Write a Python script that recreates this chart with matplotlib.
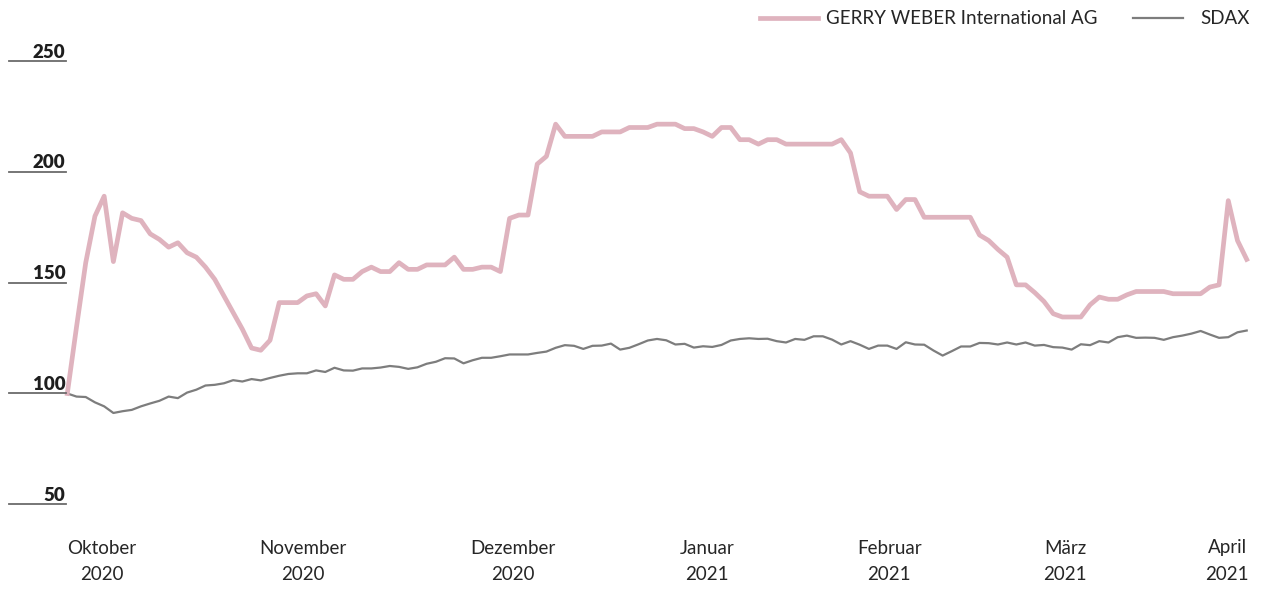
import numpy as np
import matplotlib.pyplot as plt
import matplotlib.transforms as mtransforms
from matplotlib.lines import Line2D

# indexed performance, one value per trading day (30.09.2020 = 100)
gerry = [100, 130, 159, 180, 189, 159.5, 181.5, 179, 178, 172,
         169.5, 166, 168, 163.5, 161.5, 157, 151.5, 144, 136.5, 129,
         120.5, 119.5, 124, 141, 141, 141, 144, 145, 139.5, 153.5,
         151.5, 151.5, 155, 157, 155, 155, 159, 156, 156, 158,
         158, 158, 161.5, 156, 156, 157, 157, 155, 179, 180.5,
         180.5, 203.5, 207, 221.5, 216, 216, 216, 216, 218, 218,
         218, 220, 220, 220, 221.5, 221.5, 221.5, 219.5, 219.5, 218,
         216, 220, 220, 214.5, 214.5, 212.5, 214.5, 214.5, 212.5, 212.5,
         212.5, 212.5, 212.5, 212.5, 214.5, 208.5, 191, 189, 189, 189,
         183, 187.5, 187.5, 179.5, 179.5, 179.5, 179.5, 179.5, 179.5, 171.5,
         169, 165, 161.5, 149, 149, 145.5, 141.5, 136, 134.5, 134.5,
         134.5, 140, 143.5, 142.5, 142.5, 144.5, 146, 146, 146, 146,
         145, 145, 145, 145, 148, 149, 187, 169, 160.5]

sdax = [100, 98.6, 98.4, 96, 94.2, 91.2, 92, 92.6, 94.2, 95.5,
        96.7, 98.6, 97.9, 100.4, 101.7, 103.6, 103.9, 104.6, 106, 105.4,
        106.5, 105.9, 107, 108, 108.8, 109.1, 109.1, 110.4, 109.7, 111.6,
        110.4, 110.3, 111.3, 111.3, 111.7, 112.4, 112, 111.1, 111.8, 113.4,
        114.3, 115.9, 115.8, 113.6, 115, 116.1, 116.1, 116.8, 117.6, 117.6,
        117.6, 118.3, 118.9, 120.6, 121.8, 121.5, 120.1, 121.5, 121.6, 122.5,
        119.8, 120.6, 122.2, 123.9, 124.6, 124, 122.1, 122.4, 120.7, 121.3,
        121, 121.9, 123.9, 124.6, 124.9, 124.6, 124.7, 123.6, 123, 124.6,
        124.2, 125.8, 125.8, 124.3, 122.1, 123.6, 122, 120.1, 121.6, 121.6,
        120.1, 123.1, 122.1, 122, 119.4, 117.1, 119.1, 121.2, 121.2, 122.8,
        122.7, 122.1, 123, 122.1, 123, 121.6, 121.9, 120.9, 120.7, 119.8,
        122.2, 121.8, 123.6, 123, 125.4, 126.1, 125.1, 125.2, 125.1, 124.2,
        125.4, 126.1, 127, 128.2, 126.6, 125.1, 125.4, 127.6, 128.4]

months = ['Oktober', 'November', 'Dezember', 'Januar', 'Februar', 'März', 'April']
years = ['2020', '2020', '2020', '2021', '2021', '2021', '2021']
month_pos = [3.7, 25.6, 48.4, 69.4, 89.2, 108.3, 125.9]
y_ticks = [50, 100, 150, 200, 250]

PINK = '#dfb3be'
GREY = '#7d7d7d'
TEXT = '#262626'

plt.rcParams['font.family'] = ['Lato', 'DejaVu Sans']

W, H = 1265, 593
fig = plt.figure(figsize=(W / 100, H / 100), dpi=100)
ax = fig.add_axes([67.3 / W, 1 - 504.3 / H, 1179.4 / W, 443.3 / H])

x = np.arange(len(gerry))
ax.plot(x, sdax, color=GREY, lw=1.6, clip_on=False)
ax.plot(x, gerry, color=PINK, lw=3.4, clip_on=False)
ax.set_xlim(0, len(gerry) - 1)
ax.set_ylim(50, 250)
ax.axis('off')

# y labels with short rules on the left
ytrans = mtransforms.blended_transform_factory(fig.transFigure, ax.transData)
up = mtransforms.ScaledTranslation(0, 0.035, fig.dpi_scale_trans)
for v in y_ticks:
    ax.plot([9 / W, 65.7 / W], [v, v], transform=ytrans, color='#6b6b6b',
            lw=1.3, clip_on=False)
    ax.text(65.5 / W, v, str(v), transform=ytrans + up, ha='right',
            va='baseline', fontsize=13.5, fontweight='heavy', color='#1e1e1e')

# month labels
xtrans = mtransforms.blended_transform_factory(ax.transData, fig.transFigure)
for p, m, yr in zip(month_pos, months, years):
    ax.text(p, 1 - 548 / H, m, transform=xtrans, ha='center', va='center',
            fontsize=13.5, color=TEXT)
    ax.text(p, 1 - 575 / H, yr, transform=xtrans, ha='center', va='center',
            fontsize=13.5, color=TEXT)

# legend
ly = 1 - 18 / H
fig.add_artist(Line2D([760 / W, 818 / W], [ly, ly], transform=fig.transFigure,
                      color=PINK, lw=3.4))
fig.text(826 / W, ly, 'GERRY WEBER International AG', va='center',
         fontsize=13.5, color=TEXT)
fig.add_artist(Line2D([1133 / W, 1183 / W], [ly, ly], transform=fig.transFigure,
                      color=GREY, lw=1.6))
fig.text(1200 / W, ly, 'SDAX', va='center', fontsize=13.5, color=TEXT)

fig.savefig('out.png', dpi=100)
